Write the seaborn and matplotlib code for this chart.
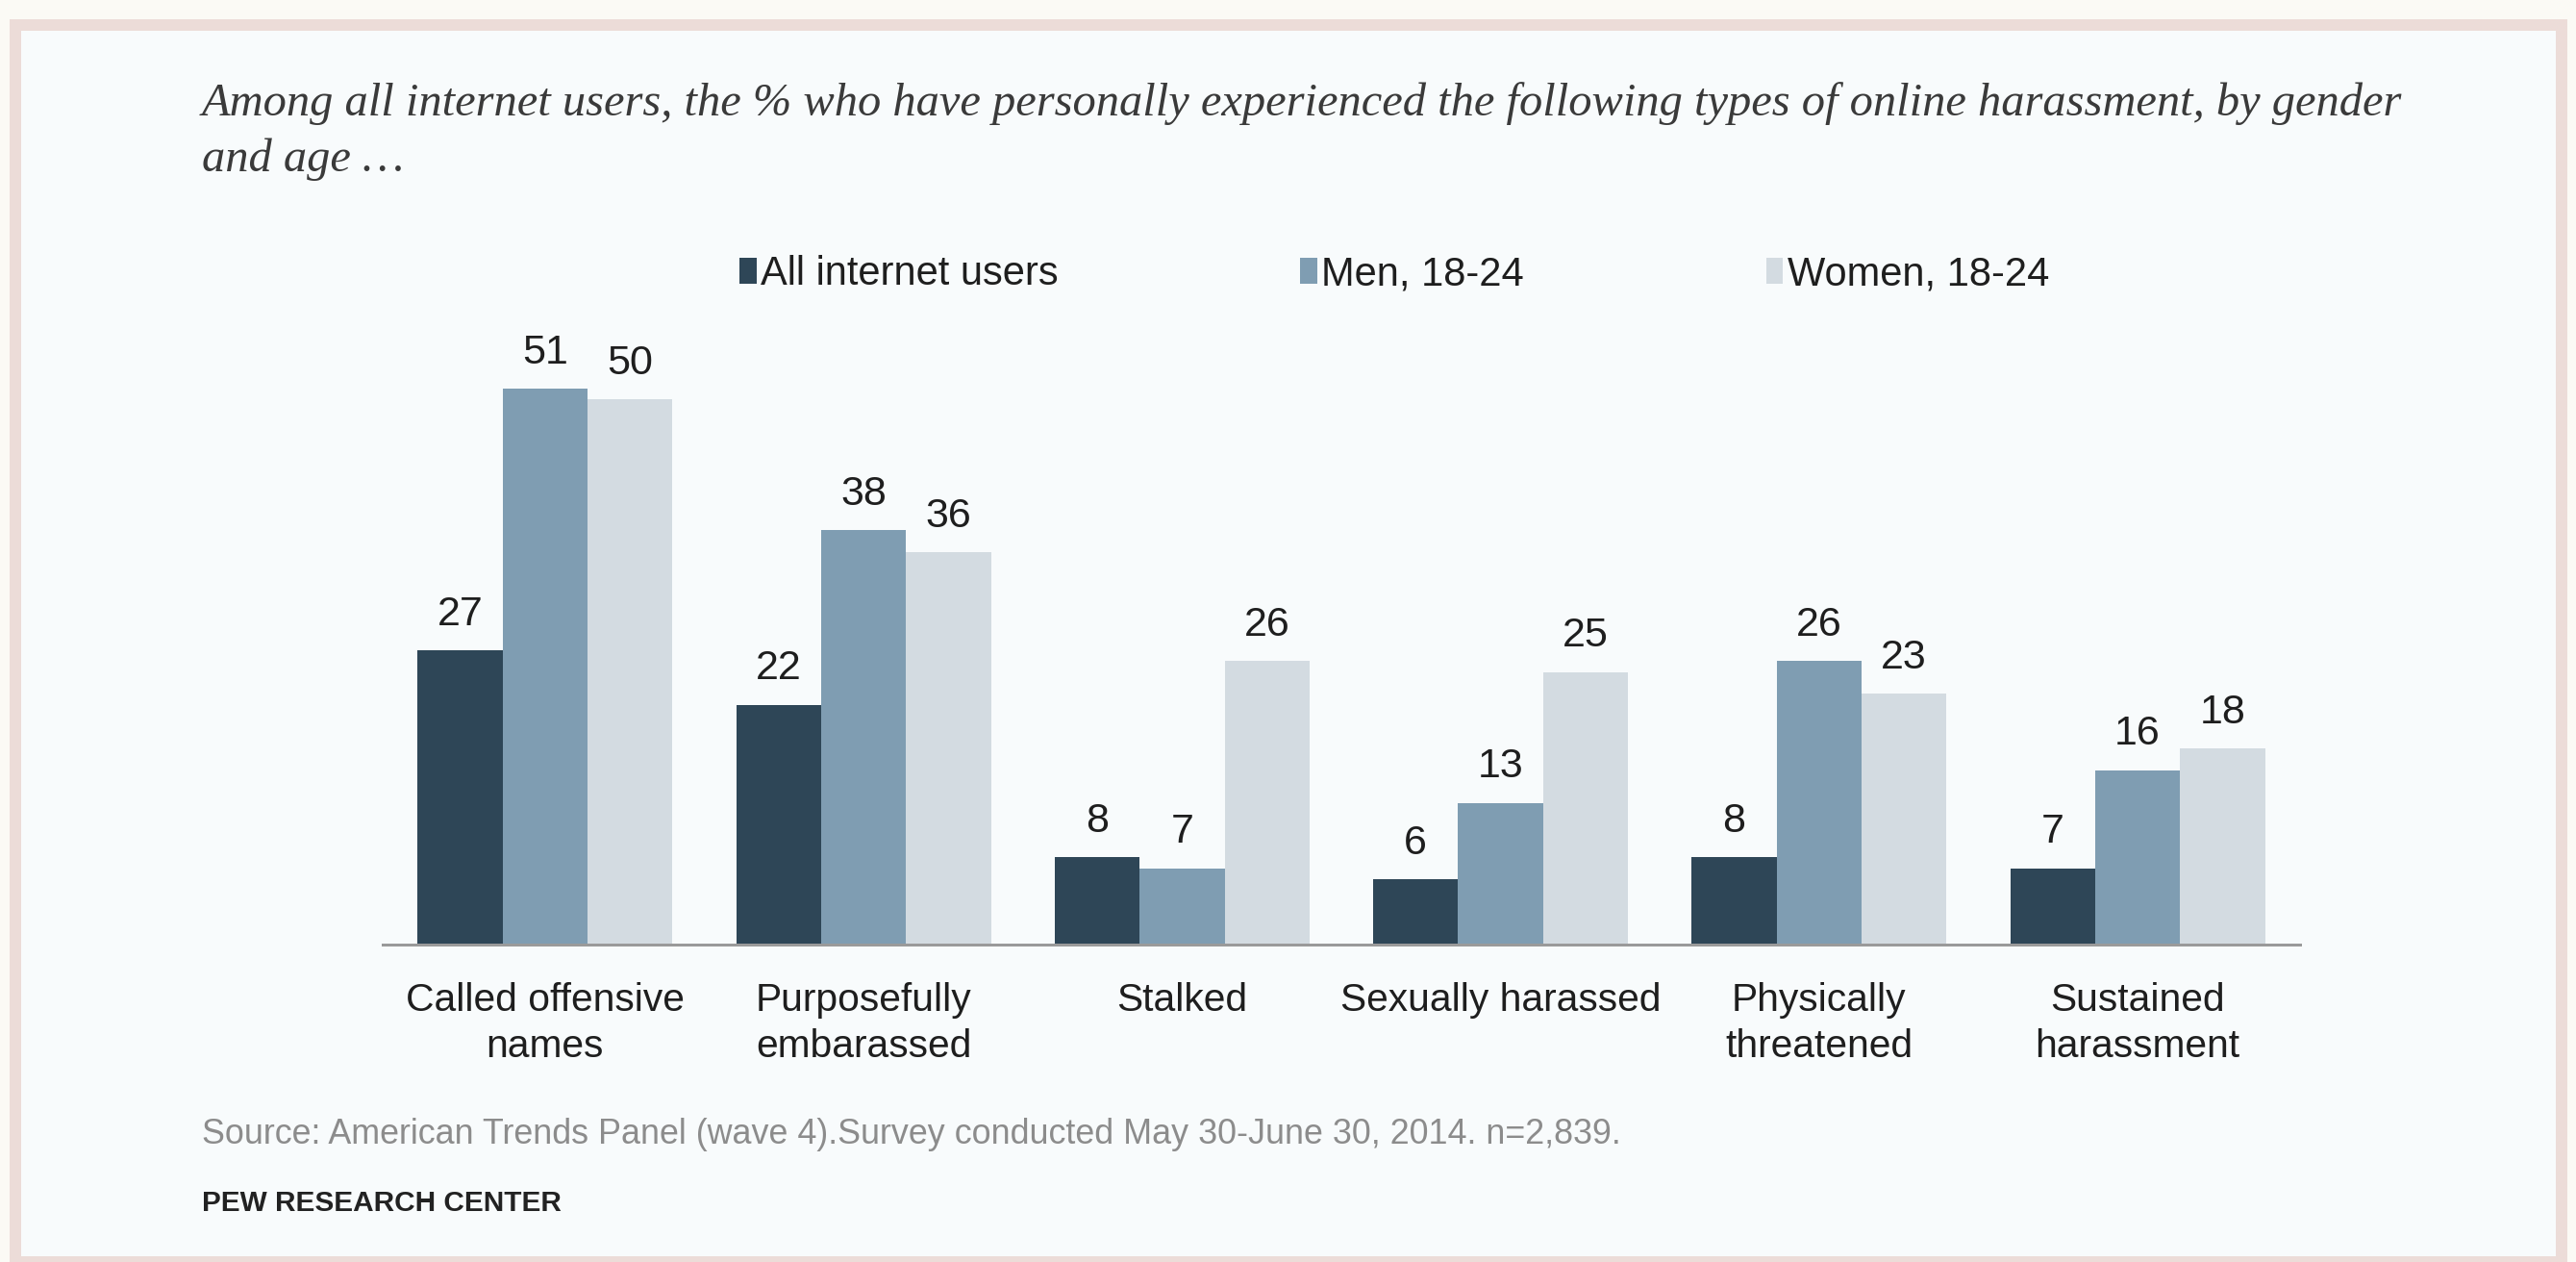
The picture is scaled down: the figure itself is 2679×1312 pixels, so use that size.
import numpy as np
import pandas as pd
import matplotlib
matplotlib.use("Agg")
import matplotlib.pyplot as plt
import seaborn as sns
from matplotlib.patches import Rectangle, Patch

# ---------------- data ----------------
categories = ["Called offensive\nnames", "Purposefully\nembarassed", "Stalked",
              "Sexually harassed", "Physically\nthreatened", "Sustained\nharassment"]
all_users = [27, 22, 8, 6, 8, 7]
men_18_24 = [51, 38, 7, 13, 26, 16]
women_18_24 = [50, 36, 26, 25, 23, 18]
series_names = ["All internet users", "Men, 18-24", "Women, 18-24"]
colors = ["#2e4657", "#7f9db2", "#d3dbe1"]

title_line1 = ("Among all internet users, the % who have personally experienced "
               "the following types of online harassment, by gender")
title_line2 = "and age \u2026"
source_text = ("Source: American Trends Panel (wave 4).Survey conducted May 30-June 30, "
               "2014. n=2,839.")
org_text = "PEW RESEARCH CENTER"

df = pd.DataFrame({
    "category": categories * 3,
    "value": all_users + men_18_24 + women_18_24,
    "group": [series_names[0]] * 6 + [series_names[1]] * 6 + [series_names[2]] * 6,
})

# ---------------- figure ----------------
W, H, DPI = 2679, 1312, 100
sns.set_theme(style="white")
plt.rcParams["font.family"] = ["Liberation Sans", "DejaVu Sans"]

fig = plt.figure(figsize=(W / DPI, H / DPI), dpi=DPI, facecolor="#fbfaf5")
frame = Rectangle((16 / W, 1 - 1312 / H), (2664 - 16) / W, (1312 - 26) / H,
                  transform=fig.transFigure, facecolor="#f8fbfc",
                  edgecolor="#ecdcd8", linewidth=12 * 72 / DPI, zorder=-5)
fig.patches.append(frame)

ax = fig.add_axes([398 / W, 1 - 982 / H, 1994 / W, (982 - 302) / H])
ax.set_facecolor("none")
ax.set_zorder(2)
sns.barplot(data=df, x="category", y="value", hue="group", palette=colors,
            saturation=1, width=0.8, ax=ax, edgecolor="none", linewidth=0,
            legend=False, errorbar=None)

for cont in ax.containers:
    ax.bar_label(cont, fmt="%d", padding=12.5, fontsize=31, color="#1e1e1e")

ax.set_xlim(-0.51, 5.51)
ax.set_ylim(0, 60)
for s in ["top", "left", "right"]:
    ax.spines[s].set_visible(False)
ax.spines["bottom"].set_color("#9a9a9a")
ax.spines["bottom"].set_linewidth(3 * 72 / DPI)
ax.set_yticks([])
ax.set_xlabel("")
ax.set_ylabel("")
ax.set_xticks(range(len(categories)))
ax.set_xticklabels(categories, linespacing=1.35)
ax.tick_params(axis="x", length=0, pad=28, labelsize=29.3, labelcolor="#1e1e1e")

handles = [Patch(facecolor=c, edgecolor="none") for c in colors]
leg = ax.legend(handles, series_names, ncol=3, loc="center",
                bbox_to_anchor=(1450 / W, 1 - 285 / H), bbox_transform=fig.transFigure,
                frameon=False, fontsize=30, handlelength=0.42, handleheight=0.62,
                handletextpad=0.1, columnspacing=6.05)
for t in leg.get_texts():
    t.set_color("#1e1e1e")

# ---------------- texts ----------------
t1 = fig.text(210 / W, 1 - 120 / H, title_line1, family=["Liberation Serif", "DejaVu Serif"],
              style="italic", fontsize=30, color="#3a3a3a", va="baseline", ha="left")
t2 = fig.text(210 / W, 1 - 178 / H, title_line2, family=["Liberation Serif", "DejaVu Serif"],
              style="italic", fontsize=30, color="#3a3a3a", va="baseline", ha="left")
ts = fig.text(210 / W, 1 - 1189 / H, source_text, fontsize=22, color="#8c8c8c",
              va="baseline", ha="left")
tp = fig.text(210 / W, 1 - 1259 / H, org_text, fontsize=21, color="#222222",
              weight="bold", va="baseline", ha="left")


def fit(t, target_px):
    fig.canvas.draw()
    r = fig.canvas.get_renderer()
    w = t.get_window_extent(renderer=r).width
    t.set_fontsize(t.get_fontsize() * target_px / w)


fit(t1, 2290)
t2.set_fontsize(t1.get_fontsize())
fit(ts, 1475)
fit(tp, 374)

fig.savefig("out.png", dpi=DPI, facecolor=fig.get_facecolor())
